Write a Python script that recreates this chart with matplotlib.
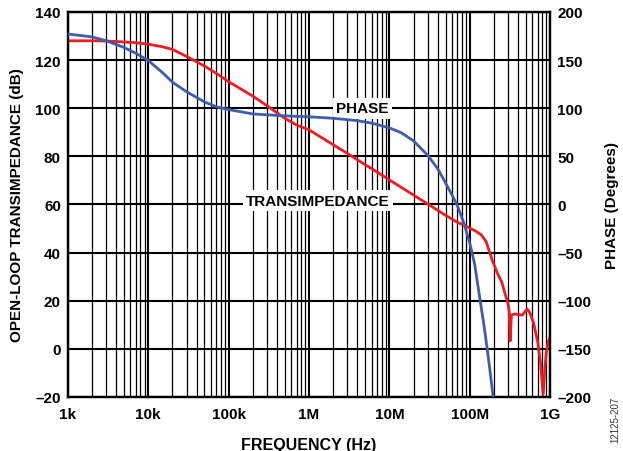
import matplotlib

matplotlib.use('Agg')

import matplotlib.pyplot as plt
from matplotlib.ticker import FixedLocator, LogLocator, NullFormatter

plt.rcParams['font.family'] = ['Liberation Sans', 'DejaVu Sans']

OUTPUT_PATH = 'out.png'

RED = '#ED1C24'
BLUE = '#3F5DAB'

# transimpedance magnitude (left axis, dB)
gain_freq = [
    1e3, 2e3, 3e3, 5e3, 7e3, 1e4, 1.5e4, 2e4, 3e4, 5e4, 7e4, 1e5, 1.5e5,
    2e5, 3e5, 5e5, 7e5, 1e6, 2e6, 3e6, 5e6, 7e6, 1e7, 1.5e7, 2e7,
    3e7, 5e7, 7e7, 1e8, 1.2e8, 1.4e8, 1.6e8, 1.9e8, 2.2e8, 2.5e8, 2.8e8,
    3.0e8, 3.1e8, 3.18e8, 3.3e8, 3.6e8, 4.5e8, 5.2e8, 5.6e8, 6.2e8, 7.0e8,
    7.6e8, 8.2e8, 8.6e8, 9.0e8, 9.5e8, 1e9,
]
gain_db = [
    128.0, 128.0, 127.9, 127.5, 127.2, 126.6, 125.5, 124.4, 121.5, 117.5,
    114.5, 111.0, 107.5, 105.0, 101.0, 95.8, 93.0, 91.0, 84.8, 81.2, 76.5,
    73.5, 70.2, 66.5, 63.9, 60.2, 55.5, 52.6, 50.2, 48.8, 47.3, 44.5,
    37.0, 31.5, 27.8, 22.0, 18.6, 15.5, 3.3, 14.0, 14.5, 14.0, 16.5, 15.0,
    11.0, 3.0, -6.0, -19.0, -8.0, -1.0, 3.0, 5.0,
]

# phase (right axis, degrees)
phase_freq = [
    1e3, 2e3, 3e3, 5e3, 7e3, 1e4, 1.5e4, 2e4, 3e4, 5e4, 7e4, 1e5, 2e5,
    5e5, 1e6, 2e6, 4e6, 6e6, 1e7, 1.4e7, 2e7, 3e7, 4e7, 4.7e7, 6e7, 7e7,
    8.5e7, 1e8, 1.15e8, 1.35e8, 1.5e8, 1.65e8, 1.8e8, 1.95e8, 2.0e8,
]
phase_deg = [
    177, 174, 170, 163, 157, 149.5, 137, 127, 117, 106.5, 101.5, 98.5, 94,
    92, 91, 89.5, 87, 84.5, 79.5, 74.5, 66, 51, 37, 26.5, 10, -1, -20, -40,
    -62, -100, -125, -150, -175, -199, -208,
]

x_ticks = [1e3, 1e4, 1e5, 1e6, 1e7, 1e8, 1e9]
x_tick_labels = ['1k', '10k', '100k', '1M', '10M', '100M', '1G']
left_ticks = [-20, 0, 20, 40, 60, 80, 100, 120, 140]
right_ticks = [-200, -150, -100, -50, 0, 50, 100, 150, 200]


def fmt(v):
    # minus signs in the original are en dashes
    return f'{v}'.replace('-', '\u2013')


def main():
    fig = plt.figure(figsize=(6.23, 4.52), dpi=100)
    ax = fig.add_axes([0.109, 0.1195, 0.774, 0.852])
    ax2 = ax.twinx()

    ax.set_xscale('log')
    ax.set_xlim(1e3, 1e9)
    ax.set_ylim(-20, 140)
    ax2.set_ylim(-200, 200)

    ax.xaxis.set_major_locator(FixedLocator(x_ticks))
    ax.set_xticklabels(x_tick_labels)
    ax.xaxis.set_minor_locator(LogLocator(base=10, subs=range(2, 10), numticks=20))
    ax.xaxis.set_minor_formatter(NullFormatter())
    ax.set_yticks(left_ticks)
    ax.set_yticklabels([fmt(v) for v in left_ticks])
    ax2.set_yticks(right_ticks)
    ax2.set_yticklabels([fmt(v) for v in right_ticks])

    ax.grid(True, which='major', color='black', linewidth=1.5, zorder=1)
    ax.grid(True, which='minor', axis='x', color='black', linewidth=0.9, zorder=1)
    ax.set_axisbelow(True)

    for a in (ax, ax2):
        a.tick_params(which='both', length=0, labelsize=11, pad=5)
        for lbl in a.get_xticklabels() + a.get_yticklabels():
            lbl.set_fontweight('bold')
        for sp in a.spines.values():
            sp.set_linewidth(1.6)
    ax.tick_params(axis='x', pad=7)

    ax.plot(gain_freq, gain_db, color=RED, linewidth=2.0, zorder=3)
    ax2.plot(phase_freq, phase_deg, color=BLUE, linewidth=2.0, zorder=3)

    ax.text(4.6e6, 100, 'PHASE', ha='center', va='center', fontsize=11,
            fontweight='bold', zorder=5,
            bbox=dict(facecolor='white', edgecolor='none', pad=2.5))
    ax.text(1.3e6, 61.5, 'TRANSIMPEDANCE', ha='center', va='center', fontsize=11,
            fontweight='bold', zorder=5,
            bbox=dict(facecolor='white', edgecolor='none', pad=2.5))

    ax.set_xlabel('FREQUENCY (Hz)', fontsize=11.5, fontweight='bold', labelpad=12)
    ax.set_ylabel('OPEN-LOOP TRANSIMPEDANCE (dB)', fontsize=11, fontweight='bold',
                  labelpad=8)
    ax2.set_ylabel('PHASE (Degrees)', fontsize=11, fontweight='bold', labelpad=10)

    fig.text(0.988, 0.072, '12125-207', rotation=90, ha='center', va='center',
             fontsize=7, color='#333333')

    fig.savefig(OUTPUT_PATH, dpi=100)
    plt.close(fig)


if __name__ == '__main__':
    main()
